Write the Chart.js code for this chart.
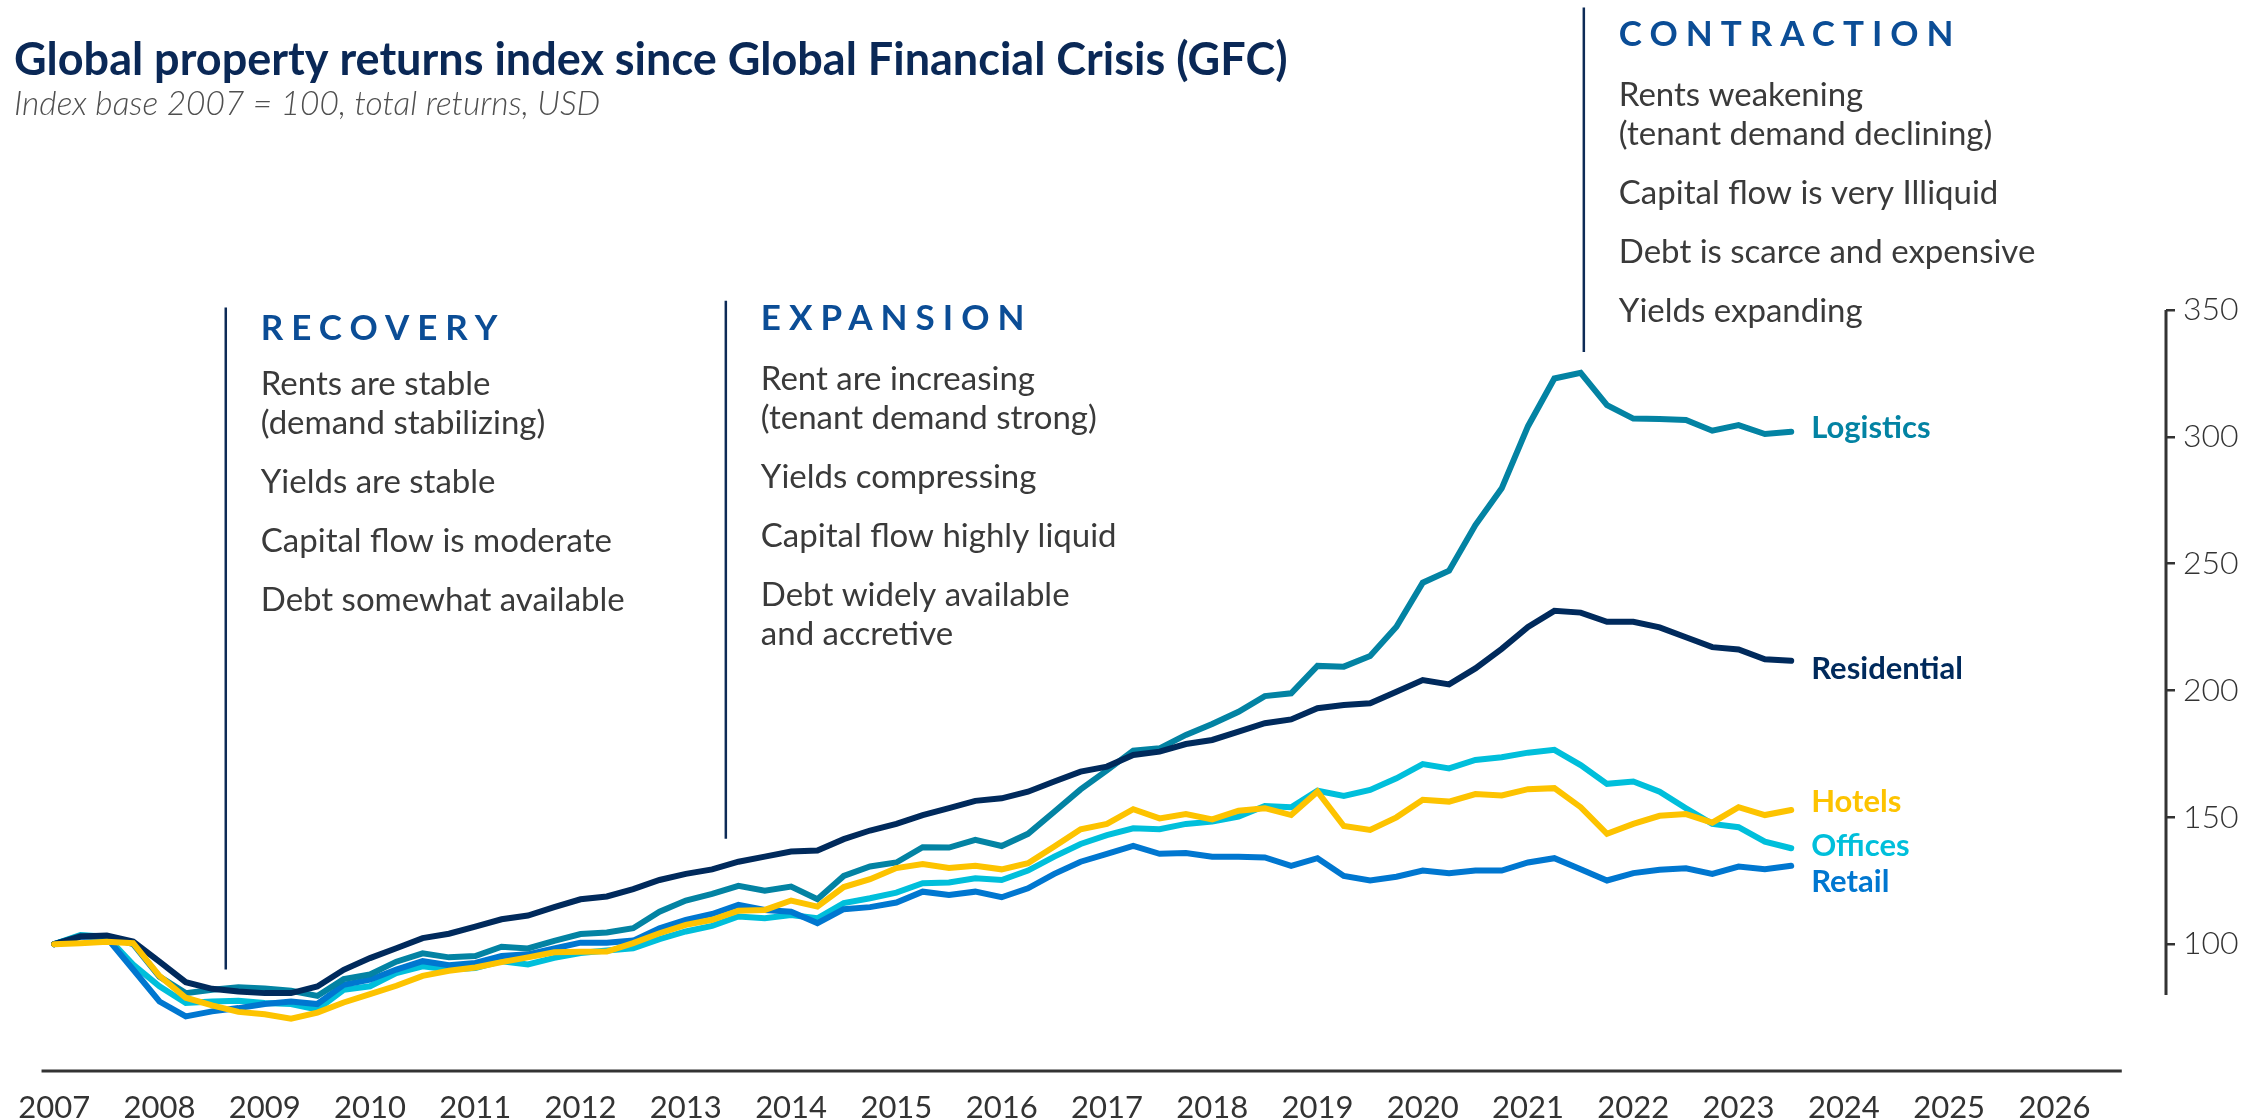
<!DOCTYPE html>
<html>
<head>
<meta charset="utf-8">
<title>Global property returns index since GFC</title>
<script src="https://cdn.jsdelivr.net/npm/chart.js@4.4.0/dist/chart.umd.min.js"></script>
<style>
  html, body { margin: 0; padding: 0; background: #fff; }
  #wrap { width: 2267px; height: 1120px; }
</style>
</head>
<body>
<div id="wrap"><canvas id="graph" width="2267" height="1120"></canvas></div>
<script>
// quarterly observations, 2007 Q1 .. 2023 Q3 (as decimal years)
const quarters = Array.from({ length: 67 }, (_, i) => 2007 + i / 4)

const yearTicks = [2007, 2008, 2009, 2010, 2011, 2012, 2013, 2014, 2015, 2016,
  2017, 2018, 2019, 2020, 2021, 2022, 2023, 2024, 2025, 2026]
const valueTicks = [100, 150, 200, 250, 300, 350]

const logistics = [100, 103.3, 103, 100, 87.2, 80.7, 82, 83, 82.5, 81.6, 79.6, 86.2, 88.1, 93.1, 96.4, 94.8, 95.3, 99, 98.3, 101.3, 104,
  104.6, 106.3, 112.8, 117.2, 119.8, 123, 121.1, 122.7, 117.7, 126.9, 130.6, 132.2, 138.2, 138.1, 141.1, 138.7, 143.5, 152.2, 161, 168.5,
  176.3, 177.2, 182.5, 186.8, 191.6, 197.8, 198.9, 209.7, 209.4, 213.6, 225.1,
  242.5, 247.2, 265.2, 279.7, 304.2, 323, 325.2, 312.5, 307.2, 307, 306.6, 302.4, 304.6, 301.1, 302]

const residential = [100, 103, 103.4, 101, 93.1, 85, 82.4, 81.3, 80.7, 80.7, 83.3, 89.9, 94.5, 98.4, 102.4, 104.1, 106.9, 109.8, 111.3, 114.6, 117.7,
  118.8, 121.7, 125.3, 127.7, 129.5, 132.5, 134.5, 136.5, 136.9, 141.4, 144.8, 147.4, 150.9, 153.6, 156.5, 157.5, 160.1, 164.1, 168, 170,
  174.6, 175.9, 178.9, 180.5, 183.8, 187.1, 188.6, 193, 194.3, 195, 199.5, 204.1, 202.4, 208.7, 216.4,
  225.1, 231.4, 230.7, 227.1, 227.1, 224.9, 221, 217.1, 216.2, 212.3, 211.7]

const hotels = [100, 100.4, 101, 100.4, 87.5, 78.9, 75.9, 73.3, 72.4, 70.6, 73, 77, 80.3, 83.6, 87.5, 89.5, 90.8, 92.9, 94.8, 96.8, 97,
  97.1, 100.4, 104.3, 107.6, 109.6, 113.2, 113.5, 117.2, 114.8, 122.5, 125.6, 130, 131.6, 130, 130.9, 129.5, 131.9, 138.5, 145.3, 147.4,
  153.2, 149.6, 151.3, 149.2, 152.6, 153.6, 150.9, 160.1, 146.6, 145, 150, 156.9, 156.2, 159.2, 158.6,
  161.1, 161.5, 154, 143.5, 147.4, 150.6, 151.3, 147.9, 154, 150.9, 152.9]

const offices = [100, 103.6, 103, 92, 83.4, 76.8, 77.4, 77.7, 76.8, 76.4, 74.2, 82, 83.4, 88.6, 91.3, 90, 90.6, 93.3, 92, 94.6, 96.5,
  97.5, 98.4, 102, 105, 107.2, 110.9, 110.2, 111.5, 110.2, 116.2, 118.1, 120.3, 124, 124.3, 126, 125.3, 129, 134.5, 139.5, 143,
  145.7, 145.3, 147.4, 148.3, 150.3, 154.5, 154, 160.5, 158.4, 160.8, 165.4, 171, 169.3, 172.6, 173.7,
  175.5, 176.6, 170.6, 163.2, 164.1, 160.1, 153.6, 147.4, 146.1, 140.4, 137.8]

const retail = [100, 103, 102.5, 90, 77.4, 71.5, 73.5, 74.8, 76.4, 77.4, 76.4, 84, 86, 90, 93.3, 91.7, 92.6, 95.3, 96, 98.3, 100.6,
  100.6, 101.4, 106.3, 109.6, 111.9, 115.5, 113.5, 112.8, 108.3, 113.8, 114.6, 116.4, 120.7, 119.4, 120.7, 118.5, 122, 127.7, 132.5, 135.6,
  138.7, 135.6, 135.9, 134.5, 134.5, 134.2, 130.9, 133.9, 126.9, 125.1, 126.6, 129, 128, 129, 129,
  132.2, 133.9, 129.5, 125.1, 128, 129.3, 129.9, 127.7, 130.6, 129.5, 130.9]

const SERIES = [
  { label: 'Hotels', data: hotels, colour: '#FDC300', nudge: -8 },
  { label: 'Residential', data: residential, colour: '#002A5C', nudge: 8 },
  { label: 'Logistics', data: logistics, colour: '#0383A3', nudge: -4 },
  { label: 'Retail', data: retail, colour: '#0077D0', nudge: 16 },
  { label: 'Offices', data: offices, colour: '#00BFDB', nudge: -2 },
]

const PHASES = [
  { title: 'RECOVERY', at: 2008.63, top: 351, bottom: 90, headOffset: 33, gap: 55,
    text: [['Rents are stable', '(demand stabilizing)'], ['Yields are stable'],
      ['Capital flow is moderate'], ['Debt somewhat available']] },
  { title: 'EXPANSION', at: 2013.38, top: 353.6, bottom: 141.6, headOffset: 29, gap: 60,
    text: [['Rent are increasing', '(tenant demand strong)'], ['Yields compressing'],
      ['Capital flow highly liquid'], ['Debt widely available', 'and accretive']] },
  { title: 'CONTRACTION', at: 2021.53, top: 469.3, bottom: 333.4, headOffset: 39, gap: 60,
    text: [['Rents weakening', '(tenant demand declining)'], ['Capital flow is very Illiquid'],
      ['Debt is scarce and expensive'], ['Yields expanding']] },
]

const FONT = 'Lato, "Noto Sans", sans-serif'
const AXIS_COLOUR = '#333333'

// everything that is not a series: titles, phase notes, end labels, axis lines
const overlay = {
  id: 'overlay',
  afterDraw(chart) {
    const { ctx, chartArea, scales: { x, y } } = chart
    ctx.save()

    // axis lines
    ctx.strokeStyle = AXIS_COLOUR
    ctx.lineWidth = 3
    ctx.beginPath()
    ctx.moveTo(chartArea.left, chartArea.bottom)
    ctx.lineTo(x.getPixelForValue(2026.64), chartArea.bottom)
    ctx.stroke()
    ctx.beginPath()
    ctx.moveTo(chartArea.right, y.getPixelForValue(350))
    ctx.lineTo(chartArea.right, y.getPixelForValue(80))
    ctx.stroke()

    // title
    ctx.textAlign = 'left'
    ctx.textBaseline = 'alphabetic'
    ctx.fillStyle = '#0A2856'
    ctx.font = `bold 45px ${FONT}`
    ctx.fillText('Global property returns index since Global Financial Crisis (GFC)', 14, 75)
    ctx.fillStyle = '#4F4F4F'
    ctx.font = `italic 300 33.5px ${FONT}`
    ctx.fillText('Index base 2007 = 100, total returns, USD', 14, 115)

    // phases
    PHASES.forEach(p => {
      const px = x.getPixelForValue(p.at)
      const top = y.getPixelForValue(p.top)
      ctx.strokeStyle = '#0D2B57'
      ctx.lineWidth = 2.5
      ctx.beginPath()
      ctx.moveTo(px, top)
      ctx.lineTo(px, y.getPixelForValue(p.bottom))
      ctx.stroke()

      const tx = px + 35
      let ty = top + p.headOffset
      ctx.fillStyle = '#0B4D96'
      ctx.font = `bold 35px ${FONT}`
      ctx.letterSpacing = '8px'
      ctx.fillText(p.title, tx, ty)
      ctx.letterSpacing = '0px'

      ctx.fillStyle = '#3A3A3A'
      ctx.font = `33px ${FONT}`
      ty += p.gap
      p.text.forEach((para, pi) => {
        if (pi > 0) ty += 59
        para.forEach((line, li) => {
          if (li > 0) ty += 39
          ctx.fillText(line, tx, ty)
        })
      })
    })

    // end labels
    ctx.textBaseline = 'middle'
    ctx.font = `bold 31px ${FONT}`
    chart.data.datasets.forEach((ds, i) => {
      const last = ds.data.length - 1
      const lx = x.getPixelForValue(quarters[last]) + 20
      const ly = y.getPixelForValue(ds.data[last]) + SERIES[i].nudge
      ctx.fillStyle = ds.borderColor
      ctx.fillText(ds.label, lx, ly)
    })

    ctx.restore()
  },
}

const ctx = document.getElementById('graph').getContext('2d')

let graph = new Chart(ctx, {
  type: 'line',
  data: {
    labels: quarters,
    datasets: SERIES.map(s => ({
      label: s.label,
      data: s.data,
      borderColor: s.colour,
      backgroundColor: 'transparent',
      borderWidth: 6,
      borderCapStyle: 'round',
      pointRadius: 0,
      tension: 0,
    })),
  },
  options: {
    responsive: false,
    animation: false,
    layout: { padding: { left: 35, top: 310, right: 0, bottom: 0 } },
    plugins: { legend: { display: false }, tooltip: { enabled: false } },
    scales: {
      x: {
        type: 'linear',
        min: 2006.88,
        max: 2027.06,
        afterBuildTicks: scale => { scale.ticks = yearTicks.map(v => ({ value: v })) },
        afterFit: scale => { scale.height = 49 },
        grid: { display: false, drawTicks: false },
        border: { display: false },
        ticks: {
          padding: 18,
          color: AXIS_COLOUR,
          font: { family: '"Liberation Sans Narrow", Lato, sans-serif', size: 31 },
          maxRotation: 0,
          autoSkip: false,
          callback: v => String(v),
        },
      },
      y: {
        position: 'right',
        min: 50,
        max: 350,
        afterBuildTicks: scale => { scale.ticks = valueTicks.map(v => ({ value: v })) },
        afterFit: scale => { scale.width = 101 },
        grid: { drawOnChartArea: false, drawTicks: true, tickLength: 9, color: AXIS_COLOUR, lineWidth: 2.5 },
        border: { display: false },
        ticks: {
          padding: 8,
          color: AXIS_COLOUR,
          font: { family: FONT, size: 32, weight: 300 },
        },
      },
    },
  },
  plugins: [overlay],
})
</script>
</body>
</html>
